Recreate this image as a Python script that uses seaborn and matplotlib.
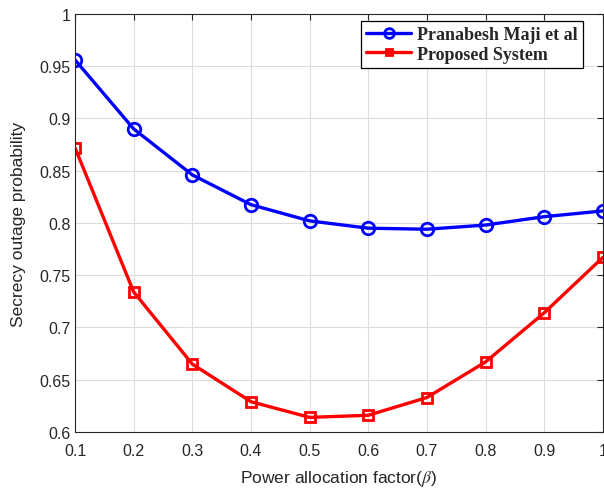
import matplotlib
matplotlib.use("Agg")
import matplotlib.pyplot as plt
import seaborn as sns
import pandas as pd
import numpy as np

beta = [0.1, 0.2, 0.3, 0.4, 0.5, 0.6, 0.7, 0.8, 0.9, 1.0]
maji = [0.956, 0.890, 0.846, 0.8175, 0.802, 0.795, 0.794, 0.798, 0.806, 0.8115]
proposed = [0.872, 0.734, 0.665, 0.629, 0.614, 0.616, 0.633, 0.667, 0.714, 0.767]
series_names = ["Pranabesh Maji et al", "Proposed System"]
x_ticks = [0.1, 0.2, 0.3, 0.4, 0.5, 0.6, 0.7, 0.8, 0.9, 1.0]
x_tick_labels = ["0.1", "0.2", "0.3", "0.4", "0.5", "0.6", "0.7", "0.8", "0.9", "1"]
y_ticks = [0.6, 0.65, 0.7, 0.75, 0.8, 0.85, 0.9, 0.95, 1.0]
y_tick_labels = ["0.6", "0.65", "0.7", "0.75", "0.8", "0.85", "0.9", "0.95", "1"]

df = pd.DataFrame({
    "beta": beta * 2,
    "value": maji + proposed,
    "series": [series_names[0]] * len(beta) + [series_names[1]] * len(beta),
})

sns.set_theme(style="white")
plt.rcParams["font.family"] = ["Liberation Sans", "DejaVu Sans"]
plt.rcParams["mathtext.fontset"] = "stix"

fig = plt.figure(figsize=(6.04, 4.89), dpi=100)
ax = fig.add_axes([0.1242, 0.1145, 0.8738, 0.855])

sns.lineplot(data=df, x="beta", y="value", hue="series", style="series",
             palette={series_names[0]: "#0000ff", series_names[1]: "#ff0000"},
             markers={series_names[0]: "o", series_names[1]: "s"},
             dashes=False, linewidth=2.4, markersize=8,
             markerfacecolor="none", markeredgewidth=2.0, ax=ax)

for line, c, m in zip(ax.get_lines()[:2], ["#0000ff", "#ff0000"], ["o", "s"]):
    line.set_marker(m)
    line.set_markeredgecolor(c)
    line.set_markerfacecolor("none")
    line.set_markersize(9 if m == "o" else 7.5)

ax.set_xlim(0.1, 1.0)
ax.set_ylim(0.6, 1.0)
ax.set_xticks(x_ticks)
ax.set_xticklabels(x_tick_labels)
ax.set_yticks(y_ticks)
ax.set_yticklabels(y_tick_labels)
ax.tick_params(direction="in", length=4, width=0.8, labelsize=11.5, colors="#262626",
               top=True, right=True)
ax.tick_params(axis="x", pad=8)
ax.tick_params(axis="y", pad=3)
ax.grid(True, color="#dddddd", linewidth=0.8)
for s in ax.spines.values():
    s.set_color("#262626")
    s.set_linewidth(0.8)

ax.set_xlabel(r"Power allocation factor($\beta$)", fontsize=12.5, color="#262626", labelpad=7)
ax.set_ylabel("Secrecy outage probability", fontsize=12.5, color="#262626", labelpad=10)

handles, labels = ax.get_legend_handles_labels()
for h, c, m in zip(handles, ["#0000ff", "#ff0000"], ["o", "s"]):
    h.set_marker(m)
    h.set_markerfacecolor("none")
    h.set_markeredgecolor(c)
    h.set_markersize(7 if m == "o" else 5)
    h.set_linewidth(2.4)
leg = ax.legend(handles, labels, loc="upper right", bbox_to_anchor=(0.962, 0.983),
                prop={"family": ["Liberation Serif"], "weight": "bold", "size": 13},
                frameon=True, fancybox=False, edgecolor="black", framealpha=1,
                borderpad=0.3, labelspacing=0.12, handlelength=2.5, handletextpad=0.3,
                borderaxespad=0.0)
leg.get_frame().set_linewidth(0.9)

fig.savefig("out.png", dpi=100)
